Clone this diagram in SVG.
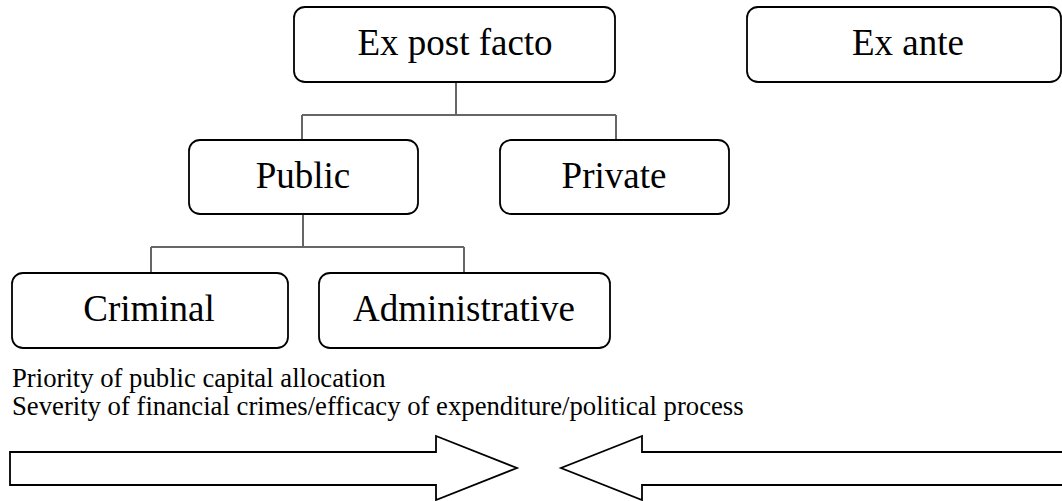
<svg xmlns="http://www.w3.org/2000/svg" width="1062" height="501" viewBox="0 0 1062 501">
<style>
.box{fill:#fff;stroke:#000;stroke-width:1.8}
.lbl{font-family:"Liberation Serif","Times New Roman",serif;font-size:37px;fill:#000;text-anchor:middle}
.cap{font-family:"Liberation Serif","Times New Roman",serif;font-size:26.7px;fill:#000}
.conn{fill:none;stroke:#666;stroke-width:2}
.arrow{fill:#fff;stroke:#000;stroke-width:1.8;stroke-linejoin:miter}
</style>
<rect width="1062" height="501" fill="#fff"/>
<g id="connectors">
<path class="conn" d="M456 82V115M302 115H616M302 115V140M616 115V140"/>
<path class="conn" d="M303 214V247M151 247H464M151 247V273M464 247V273"/>
</g>
<g id="node-ex-post-facto">
<rect class="box" x="294" y="7" width="321" height="75" rx="11"/>
<text class="lbl" x="455" y="55">Ex post facto</text>
</g>
<g id="node-ex-ante">
<rect class="box" x="747" y="7" width="314" height="75" rx="11"/>
<text class="lbl" x="908" y="55">Ex ante</text>
</g>
<g id="node-public">
<rect class="box" x="189" y="140" width="229" height="74" rx="11"/>
<text class="lbl" x="303" y="188">Public</text>
</g>
<g id="node-private">
<rect class="box" x="500" y="140" width="229" height="74" rx="11"/>
<text class="lbl" x="614" y="188">Private</text>
</g>
<g id="node-criminal">
<rect class="box" x="12" y="273" width="276" height="75" rx="11"/>
<text class="lbl" x="149" y="321">Criminal</text>
</g>
<g id="node-administrative">
<rect class="box" x="319" y="273" width="291" height="75" rx="11"/>
<text class="lbl" x="464" y="321">Administrative</text>
</g>
<g id="captions">
<text class="cap" x="12" y="387">Priority of public capital allocation</text>
<text class="cap" x="12" y="415">Severity of financial crimes/efficacy of expenditure/political process</text>
</g>
<g id="arrows">
<path class="arrow" d="M10 452H436V436L517 468L436 500V485H10Z"/>
<path class="arrow" d="M1063 452H642V436L561 468L642 500V485H1063"/>
</g>
</svg>
